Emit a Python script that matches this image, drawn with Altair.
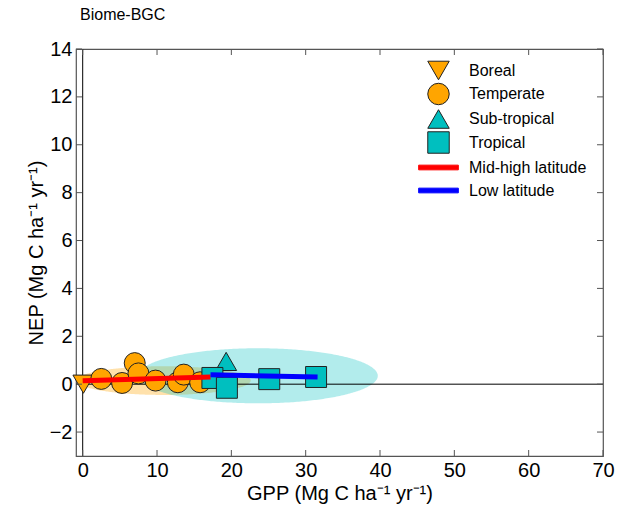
import altair as alt
import numpy as np
import pandas as pd

# ---------------- data ----------------
boreal_gpp = [0.1]
boreal_nep = [0.0]
temperate_gpp = [2.5, 5.3, 7.0, 7.5, 9.8, 12.8, 13.6, 15.8]
temperate_nep = [0.22, 0.05, 0.88, 0.45, 0.15, 0.08, 0.40, 0.08]
subtropical_gpp = [19.3]
subtropical_nep = [0.95]
tropical_gpp = [17.45, 19.4, 25.1, 31.4]
tropical_nep = [0.26, -0.15, 0.21, 0.30]

midhigh_gpp = [0.0, 17.2]
midhigh_nep = [0.14, 0.30]
low_gpp = [17.2, 31.6]
low_nep = [0.39, 0.30]

# ellipses: centre (gpp, nep) and semi-axes (gpp, nep)
midhigh_ellipse = [10.9, 0.15, 11.7, 0.60]
low_ellipse = [23.6, 0.35, 16.1, 1.15]

categories = ["Boreal", "Temperate", "Sub-tropical", "Tropical",
              "Mid-high latitude", "Low latitude"]
x_ticks = [0, 10, 20, 30, 40, 50, 60, 70]
y_ticks = [-2, 0, 2, 4, 6, 8, 10, 12, 14]

# ---------------- styling ----------------
FONT = "Liberation Sans"
W, H = 527, 407
frame_col = "#555555"
orange = "#FFA500"
teal = "#00BFBF"
# thick horizontal bar for the line entries; the two lone moveTo points only
# give the symbol a height close to the marker symbols in the legend grid
line_path = "M0,-0.85M0,0.85M-1.85,-0.22H1.85V0.22H-1.85Z"
fills = [orange, orange, teal, teal, "#FF0000", "#0000FF"]
strokes = ["#222222"] * 4 + ["#FF0000", "#0000FF"]
shapes = ["triangle-down", "circle", "triangle-up", "square", line_path, line_path]

pts = pd.concat([
    pd.DataFrame({"gpp": boreal_gpp, "nep": boreal_nep, "biome": "Boreal"}),
    pd.DataFrame({"gpp": temperate_gpp, "nep": temperate_nep, "biome": "Temperate"}),
    pd.DataFrame({"gpp": subtropical_gpp, "nep": subtropical_nep, "biome": "Sub-tropical"}),
    pd.DataFrame({"gpp": tropical_gpp, "nep": tropical_nep, "biome": "Tropical"}),
], ignore_index=True)


def ellipse(params, n=181):
    cx, cy, a, b = params
    t = np.linspace(0, np.pi, n)
    dy = b * np.sin(t)
    return pd.DataFrame({"gpp": cx - a * np.cos(t), "nep": cy + dy, "nep2": cy - dy})


xscale = alt.Scale(domain=[-0.9, 70], nice=False, zero=False)
yscale = alt.Scale(domain=[-3, 14], nice=False, zero=False)
x_title = "GPP (Mg C ha\u207b\u00b9 yr\u207b\u00b9)"
y_title = "NEP (Mg C ha\u207b\u00b9 yr\u207b\u00b9)"
xaxis = alt.Axis(values=x_ticks, title=x_title, labelFlush=False)
yaxis = alt.Axis(values=y_ticks, title=y_title)

X = alt.X("gpp:Q", scale=xscale, axis=xaxis)
Y = alt.Y("nep:Q", scale=yscale, axis=yaxis)

ell1 = alt.Chart(ellipse(midhigh_ellipse)).mark_area(color=orange, opacity=0.33).encode(
    x=X, y=Y, y2="nep2:Q")
ell2 = alt.Chart(ellipse(low_ellipse)).mark_area(color=teal, opacity=0.3).encode(
    x=X, y=Y, y2="nep2:Q")

hzero = alt.Chart(pd.DataFrame({"nep": [0]})).mark_rule(color="black", strokeWidth=1).encode(y=Y)
vzero = alt.Chart(pd.DataFrame({"gpp": [0]})).mark_rule(color="black", strokeWidth=1).encode(x=X)

legend = alt.Legend(title=None, orient="none", legendX=351, legendY=10,
                    symbolSize=460, symbolStrokeWidth=1, labelFontSize=16,
                    labelFont=FONT, labelColor="black", rowPadding=-1.5,
                    labelOffset=19, padding=0, symbolOpacity=1)

points = alt.Chart(pts).mark_point(filled=True, size=440, opacity=1, strokeWidth=1).encode(
    x=X, y=Y,
    shape=alt.Shape("biome:N", scale=alt.Scale(domain=categories, range=shapes), legend=legend),
    fill=alt.Fill("biome:N", scale=alt.Scale(domain=categories, range=fills), legend=legend),
    stroke=alt.Stroke("biome:N", scale=alt.Scale(domain=categories, range=strokes), legend=legend),
)

red_line = alt.Chart(pd.DataFrame({"gpp": midhigh_gpp, "nep": midhigh_nep})).mark_line(
    color="#FF0000", strokeWidth=5).encode(x=X, y=Y)
blue_line = alt.Chart(pd.DataFrame({"gpp": low_gpp, "nep": low_nep})).mark_line(
    color="#0000FF", strokeWidth=5).encode(x=X, y=Y)

xt = pd.DataFrame({"gpp": x_ticks})
yt = pd.DataFrame({"nep": y_ticks})
tick_len = 6
bottom_ticks = alt.Chart(xt).mark_rule(color=frame_col).encode(
    x=X, y=alt.value(H), y2=alt.value(H - tick_len))
top_ticks = alt.Chart(xt).mark_rule(color=frame_col).encode(
    x=X, y=alt.value(0), y2=alt.value(tick_len))
left_ticks = alt.Chart(yt).mark_rule(color=frame_col).encode(
    y=Y, x=alt.value(0), x2=alt.value(tick_len))
right_ticks = alt.Chart(yt).mark_rule(color=frame_col).encode(
    y=Y, x=alt.value(W), x2=alt.value(W - tick_len))

chart = alt.layer(
    ell1, ell2, hzero, vzero, points, red_line, blue_line,
    bottom_ticks, top_ticks, left_ticks, right_ticks,
).properties(
    width=W, height=H,
    background="white",
    autosize=alt.AutoSizeParams(type="none"),
    padding={"left": 76, "top": 49, "right": 16, "bottom": 53},
    title=alt.TitleParams("Biome-BGC", anchor="start", frame="group", fontSize=16,
                          fontWeight="normal", font=FONT, color="black", offset=16, dx=4),
).configure_view(
    stroke=frame_col, strokeWidth=1.2
).configure_axis(
    grid=False, ticks=False, domain=False,
    labelFont=FONT, labelFontSize=20, labelColor="black", labelPadding=4,
    titleFont=FONT, titleFontSize=20, titleFontWeight="normal", titleColor="black",
    titlePadding=3,
)

chart.save("out.html", embed_options={"renderer": "svg", "actions": False})
